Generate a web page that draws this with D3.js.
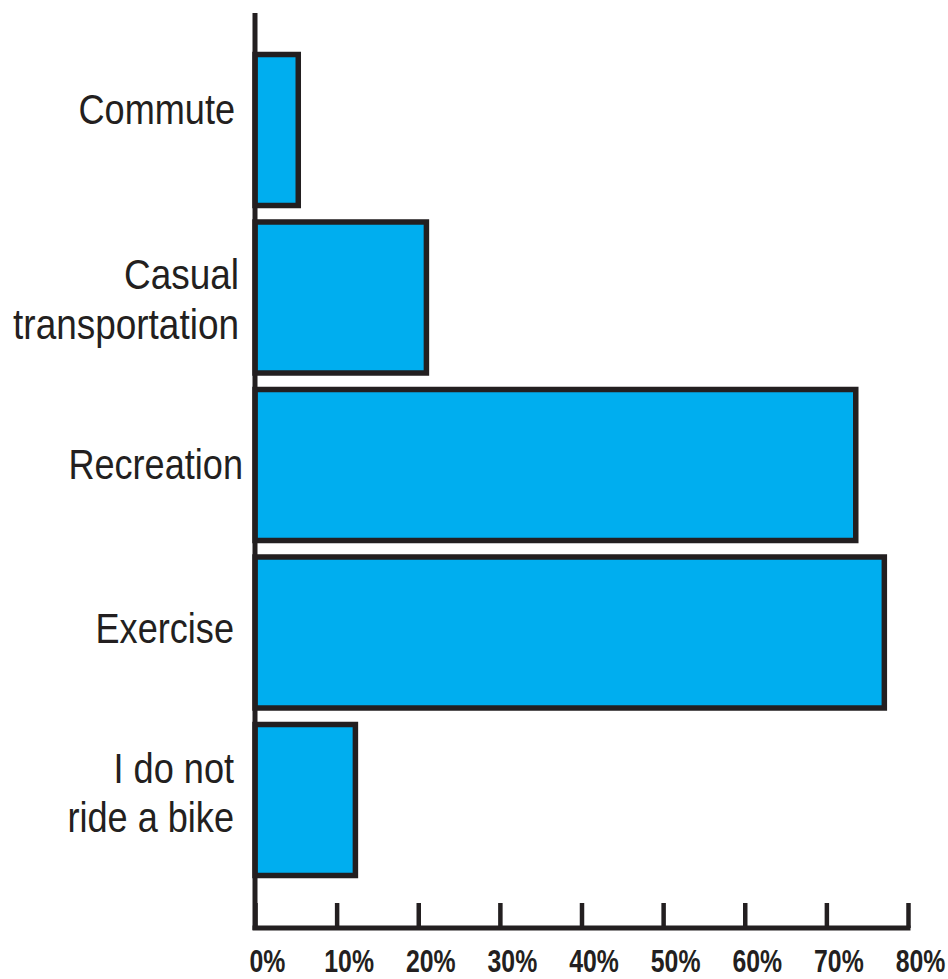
<!DOCTYPE html>
<html>
<head>
<meta charset="utf-8">
<script src="https://cdn.jsdelivr.net/npm/d3@7"></script>
<style>
  html, body { margin: 0; padding: 0; background: #ffffff; }
  svg { display: block; }
</style>
</head>
<body>
<svg id="chart" width="948" height="979"></svg>
<script>
// ---- data ----
const categories = ["Commute", "Casual\ntransportation", "Recreation", "Exercise", "I do not\nride a bike"];
const values = [5.3, 21.0, 73.6, 77.1, 12.3];
const tickValues = [0, 10, 20, 30, 40, 50, 60, 70, 80];
const tickLabels = ["0%", "10%", "20%", "30%", "40%", "50%", "60%", "70%", "80%"];

// ---- layout ----
const ink = "#231f20";
const fill = "#00aeef";
const svg = d3.select("#chart");

const x = d3.scaleLinear().domain([0, 80]).range([255, 908]);
const y = d3.scaleBand().domain(categories).range([54.5, 875.5]).paddingInner(0.0985).paddingOuter(0);

// label fine-tuning (first baseline offset from band centre, right edge, horizontal scale)
const labelFirstDy = [-6, -8.5, 14, 10.5, -17];
const labelRight = [235, 239, 243, 234, 234];
const labelScale = [0.86, 0.88, 0.86, 0.86, 0.86];
const lineH = 49.5;

// bars
svg.append("g").selectAll("rect")
  .data(categories)
  .join("rect")
  .attr("x", x(0))
  .attr("y", d => y(d))
  .attr("width", (d, i) => x(values[i]) - x(0))
  .attr("height", y.bandwidth())
  .attr("fill", fill)
  .attr("stroke", ink)
  .attr("stroke-width", 5.5);

// vertical axis line
svg.append("line")
  .attr("x1", x(0)).attr("x2", x(0))
  .attr("y1", 13).attr("y2", 930)
  .attr("stroke", ink).attr("stroke-width", 5);

// x axis via d3
const xAxis = d3.axisBottom(x).tickValues(tickValues).tickSize(0).tickFormat("");
const gx = svg.append("g").attr("transform", "translate(0,928)").call(xAxis);
gx.select(".domain").remove();
gx.append("line")
  .attr("x1", x(0) - 2.5).attr("x2", x(80) + 2.5)
  .attr("y1", 0).attr("y2", 0)
  .attr("stroke", ink).attr("stroke-width", 5);
gx.selectAll(".tick").append("line")
  .attr("x1", 0).attr("x2", 0)
  .attr("y1", 0).attr("y2", -25)
  .attr("stroke", ink).attr("stroke-width", 4.5);
gx.selectAll(".tick").append("text")
  .attr("transform", "translate(12,44) scale(0.8,1)")
  .attr("text-anchor", "middle")
  .attr("fill", ink)
  .attr("font-family", "'Liberation Sans', Arial, sans-serif")
  .attr("font-weight", "bold")
  .attr("font-size", 31)
  .text((d, i) => tickLabels[i]);

// category labels
const lg = svg.append("g");
categories.forEach((c, i) => {
  const lines = c.split("\n");
  const cy = y(c) + y.bandwidth() / 2;
  lines.forEach((ln, j) => {
    lg.append("text")
      .attr("transform", `translate(${labelRight[i]},${cy + labelFirstDy[i] + j * lineH}) scale(${labelScale[i]},1)`)
      .attr("text-anchor", "end")
      .attr("fill", ink)
      .attr("font-family", "'Liberation Sans', Arial, sans-serif")
      .attr("font-size", 42)
      .text(ln);
  });
});
</script>
</body>
</html>
